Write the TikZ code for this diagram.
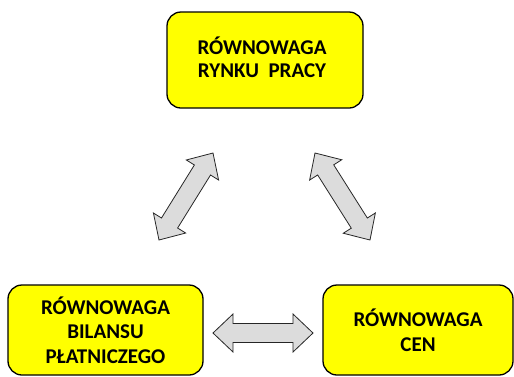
\documentclass[tikz,border=0pt]{standalone}
\usepackage{fontspec}
\setmainfont{Carlito}
\usetikzlibrary{calc}
\definecolor{boxyellow}{HTML}{FFFF00}
\definecolor{arrgray}{HTML}{DCDCDC}
\tikzset{
  eqbox/.style={draw=black, line width=1.3pt, fill=boxyellow, rounded corners=14pt,
    align=center, font=\bfseries\fontsize{21}{24.5}\selectfont, inner sep=0pt},
  dblarrowstyle/.style={draw=black!85, line width=0.8pt, fill=arrgray, line join=miter}
}
\newcommand\dblarr[2]{%
  \coordinate (#1h) at ($(#1)!20pt!(#2)$);
  \coordinate (#2h) at ($(#2)!20pt!(#1)$);
  \draw[dblarrowstyle] (#1)
    -- ($(#1h)!19pt!90:(#2)$) -- ($(#1h)!9.5pt!90:(#2)$)
    -- ($(#2h)!9.5pt!-90:(#1)$) -- ($(#2h)!19pt!-90:(#1)$)
    -- (#2)
    -- ($(#2h)!19pt!90:(#1)$) -- ($(#2h)!9.5pt!90:(#1)$)
    -- ($(#1h)!9.5pt!-90:(#2)$) -- ($(#1h)!19pt!-90:(#2)$)
    -- cycle;}
\begin{document}
\begin{tikzpicture}[x=1pt,y=-1pt]
\useasboundingbox (0,0) rectangle (514,376);
\node[eqbox, minimum width=196pt, minimum height=96pt] (top) at (265,60) {};
\node[font=\bfseries\fontsize{21}{23.5}\selectfont, align=center] (toptext) at (262,57.5)
  {RÓWNOWAGA\\RYNKU\ \ PRACY};
\node[eqbox, minimum width=195pt, minimum height=90pt] (bl) at (105.5,330)
  {RÓWNOWAGA\\BILANSU\\PŁATNICZEGO};
\node[eqbox, minimum width=190pt, minimum height=90pt] (br) at (418,330)
  {RÓWNOWAGA\\CEN};
\coordinate (a1) at (159,240);
\coordinate (a2) at (213,153);
\coordinate (b1) at (315,153);
\coordinate (b2) at (370,240);
\coordinate (c1) at (213,333);
\coordinate (c2) at (313,333);
\dblarr{a1}{a2}
\dblarr{b1}{b2}
\dblarr{c1}{c2}
\end{tikzpicture}
\end{document}
